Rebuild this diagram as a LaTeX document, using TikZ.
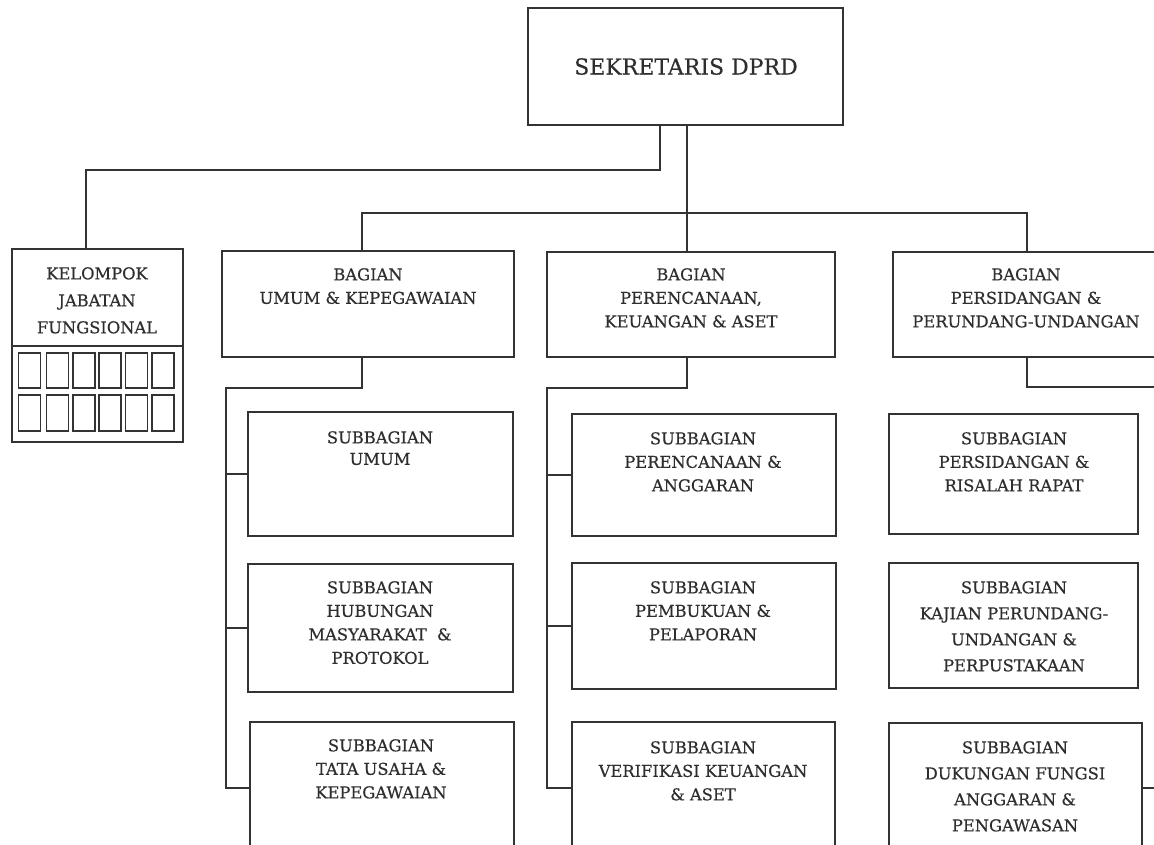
\documentclass[tikz,border=0pt]{standalone}
\usepackage{fontspec}
\setmainfont{DejaVu Serif}[FakeBold=0.4]
% a box given by its two corners: name, x1, y1, x2, y2
\newcommand{\orgbox}[5]{%
  \node[box, minimum width={#4-#2}, minimum height={#5-#3}] (#1) at ({(#2+#4)/2},{(#3+#5)/2}) {};}
\tikzset{
  box/.style={draw=black!80, line width=2.1pt, rectangle, inner sep=0pt, fill=white},
  cell/.style={draw=black!80, line width=1.6pt, rectangle, inner sep=0pt, minimum width=22pt},
  lbl/.style={anchor=north, align=center, inner sep=0pt, text=black!82,
    font=\fontsize{16.3}{23.5}\selectfont},
  wire/.style={draw=black!80, line width=1.9pt, line cap=rect},
}
\begin{document}
\begin{tikzpicture}[x=1pt, y=-1pt]
\clip (0,0) rectangle (1154,844);
\fill[white] (0,0) rectangle (1154,844);

% ---- junction points of the connector lines ----
\coordinate (jk)  at (660,170);
\coordinate (bus) at (687,213);
\coordinate (b1x) at (362,213);
\coordinate (b3x) at (1027,213);
\coordinate (c1)  at (226,388);
\coordinate (c1e) at (226,788);
\coordinate (c2)  at (547,388);
\coordinate (c2e) at (547,788);
\coordinate (c3)  at (1165,387);
\coordinate (c3e) at (1165,788);

% ---- boxes ----
\orgbox{T}{528}{8}{843}{125}
\orgbox{K}{12}{249}{183}{442}
\orgbox{B1}{222}{251}{514}{357}
\orgbox{B2}{547}{252}{835}{357}
\orgbox{B3}{893}{252}{1170}{357}
\orgbox{S11}{248}{412}{513}{536}
\orgbox{S12}{248}{564}{513}{692}
\orgbox{S13}{250}{722}{514}{900}
\orgbox{S21}{572}{414}{836}{536}
\orgbox{S22}{572}{563}{836}{689}
\orgbox{S23}{572}{722}{835}{900}
\orgbox{S31}{889}{414}{1138}{534}
\orgbox{S32}{889}{563}{1138}{688}
\orgbox{S33}{889}{723}{1142}{900}

% ---- connectors ----
\draw[wire] (T.south -| jk) -- (jk) -| ([xshift=-11.5pt]K.north);
\draw[wire] (T.south -| bus) -- (bus |- B2.north);
\draw[wire] (b1x) -- (b3x);
\draw[wire] (b1x) -- (b1x |- B1.north);
\draw[wire] (b3x) -- (b3x |- B3.north);

\draw[wire] (B1.south -| b1x) |- (c1) -- (c1e) -- (c1e -| S13.west);
\draw[wire] (c1 |- S11.west) -- (S11.west);
\draw[wire] (c1 |- S12.west) -- (S12.west);

\draw[wire] (B2.south -| bus) |- (c2) -- (c2e) -- (c2e -| S23.west);
\draw[wire] (c2 |- S21.west) -- (S21.west);
\draw[wire] (c2 |- S22.west) -- (S22.west);

\draw[wire] (B3.south -| b3x) |- (c3);
\draw[wire] (c3e -| S33.east) -- (c3e);

% ---- functional group: divider and cells ----
\coordinate (kd) at (0,346);
\draw[draw=black!80, line width=1.8pt] (K.west |- kd) -- (K.east |- kd);
\foreach \cx [count=\i] in {29.5,57.5,84,110,136.5,163} {
  \node[cell, minimum height=35pt] (ca\i) at (\cx,370.5) {};
  \node[cell, minimum height=36pt] (cb\i) at (\cx,413) {};
}

% ---- labels ----
\node[lbl, font=\fontsize{22}{26}\selectfont] (tT) at (686,58) {SEKRETARIS DPRD};
\node[lbl, font=\fontsize{16.3}{27}\selectfont] (tK) at (97,267) {KELOMPOK\\JABATAN\\FUNGSIONAL};
\node[lbl] (tB1) at (368,268) {BAGIAN\\UMUM \& KEPEGAWAIAN};
\node[lbl] (tB2) at (691,268) {BAGIAN\\PERENCANAAN,\\KEUANGAN \& ASET};
\node[lbl] (tB3) at (1026,268) {BAGIAN\\PERSIDANGAN \&\\PERUNDANG-UNDANGAN};
\node[lbl, font=\fontsize{16.3}{21.5}\selectfont] (tS11) at (380,431) {SUBBAGIAN\\UMUM};
\node[lbl] (tS12) at (380,581) {SUBBAGIAN\\HUBUNGAN\\MASYARAKAT\ \ \&\\PROTOKOL};
\node[lbl] (tS13) at (381,739) {SUBBAGIAN\\TATA USAHA \&\\KEPEGAWAIAN};
\node[lbl] (tS21) at (703,432) {SUBBAGIAN\\PERENCANAAN \&\\ANGGARAN};
\node[lbl] (tS22) at (703,581) {SUBBAGIAN\\PEMBUKUAN \&\\PELAPORAN};
\node[lbl] (tS23) at (703,741) {SUBBAGIAN\\VERIFIKASI KEUANGAN\\\& ASET};
\node[lbl] (tS31) at (1014,432) {SUBBAGIAN\\PERSIDANGAN \&\\RISALAH RAPAT};
\node[lbl, font=\fontsize{16.3}{26}\selectfont] (tS32) at (1014,581) {SUBBAGIAN\\KAJIAN PERUNDANG-\\UNDANGAN \&\\PERPUSTAKAAN};
\node[lbl, font=\fontsize{16.3}{26}\selectfont] (tS33) at (1015,741) {SUBBAGIAN\\DUKUNGAN FUNGSI\\ANGGARAN \&\\PENGAWASAN};
\end{tikzpicture}
\end{document}
